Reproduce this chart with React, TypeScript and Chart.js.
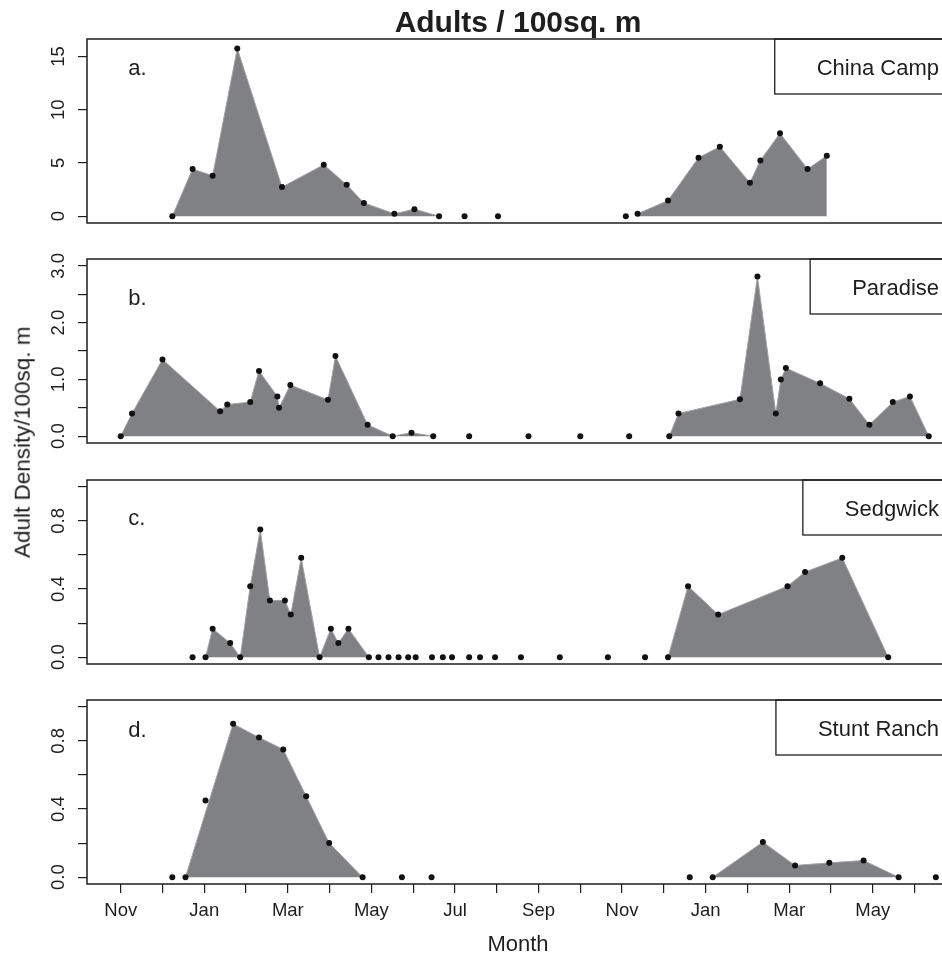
import React, { useEffect, useRef } from "react";
import { Chart, registerables } from "chart.js";

Chart.register(...registerables);

// ---------- data ----------
// x = months since 1 Nov of the first season (0 = Nov, 2 = Jan, ... 19 = Jun)
const monthTickValues = [0, 1, 2, 3, 4, 5, 6, 7, 8, 9, 10, 11, 12, 13, 14, 15, 16, 17, 18, 19];
const monthNames = ["Nov", "Dec", "Jan", "Feb", "Mar", "Apr", "May", "Jun", "Jul", "Aug", "Sep", "Oct", "Nov", "Dec", "Jan", "Feb", "Mar", "Apr", "May", "Jun"];

const chinaMonths = [1.235, 1.72, 2.2, 2.79, 3.86, 4.86, 5.41, 5.82, 6.55, 7.03, 7.62, 8.23, 9.03, 12.09, 12.37, 13.1, 13.83, 14.34, 15.06, 15.31, 15.78, 16.44, 16.9];
const chinaDensity = [0, 4.43, 3.8, 15.75, 2.73, 4.83, 2.95, 1.25, 0.22, 0.66, 0, 0, 0, 0, 0.22, 1.47, 5.49, 6.53, 3.14, 5.24, 7.78, 4.43, 5.68];
const chinaFilled = [[0, 10], [14, 22]];

const paradiseMonths = [0, 0.27, 1.0, 2.38, 2.55, 3.1, 3.31, 3.75, 3.79, 4.06, 4.96, 5.14, 5.91, 6.51, 6.96, 7.48, 8.34, 9.76, 11.0, 12.17, 13.13, 13.35, 14.82, 15.24, 15.68, 15.8, 15.92, 16.74, 17.44, 17.92, 18.48, 18.89, 19.34];
const paradiseDensity = [0, 0.4, 1.35, 0.44, 0.56, 0.6, 1.15, 0.7, 0.5, 0.9, 0.64, 1.41, 0.2, 0, 0.06, 0, 0, 0, 0, 0, 0, 0.4, 0.65, 2.81, 0.4, 1.0, 1.2, 0.93, 0.66, 0.2, 0.6, 0.7, 0];
const paradiseFilled = [[0, 15], [20, 32]];

const sedgwickMonths = [1.72, 2.03, 2.2, 2.62, 2.86, 3.1, 3.34, 3.57, 3.93, 4.07, 4.32, 4.76, 5.03, 5.21, 5.45, 5.94, 6.17, 6.41, 6.65, 6.88, 7.06, 7.45, 7.71, 7.93, 8.34, 8.6, 8.96, 9.58, 10.51, 11.66, 12.55, 13.1, 13.58, 14.3, 15.96, 16.38, 17.27, 18.37];
const sedgwickDensity = [0, 0, 0.167, 0.083, 0, 0.417, 0.75, 0.333, 0.333, 0.25, 0.583, 0, 0.167, 0.083, 0.167, 0, 0, 0, 0, 0, 0, 0, 0, 0, 0, 0, 0, 0, 0, 0, 0, 0, 0.417, 0.25, 0.417, 0.5, 0.583, 0];
const sedgwickFilled = [[1, 15], [31, 37]];

const stuntMonths = [1.235, 1.55, 2.03, 2.69, 3.31, 3.89, 4.44, 4.99, 5.79, 6.73, 7.44, 13.62, 14.17, 15.37, 16.14, 16.96, 17.78, 18.62, 19.51];
const stuntDensity = [0, 0, 0.45, 0.9, 0.82, 0.75, 0.475, 0.2, 0, 0, 0, 0, 0, 0.206, 0.069, 0.084, 0.098, 0, 0];
const stuntFilled = [[1, 8], [12, 17]];
const stuntOutsideFill = [2];

const ticksA = [0, 5, 10, 15];
const labelsA = ["0", "5", "10", "15"];
const ticksB = [0, 0.5, 1, 1.5, 2, 2.5, 3];
const labelsB = ["0.0", "", "1.0", "", "2.0", "", "3.0"];
const ticksCD = [0, 0.2, 0.4, 0.6, 0.8, 1.0];
const labelsCD = ["0.0", "", "0.4", "", "0.8", ""];

const siteNames = ["China Camp", "Paradise", "Sedgwick", "Stunt Ranch"];
const panelLetters = ["a.", "b.", "c.", "d."];

// ---------- layout / style ----------
const FONT = "'Liberation Sans', Arial, Helvetica, sans-serif";
const CANVAS_W = 960;
const PLOT_LEFT = 87;
const PLOT_RIGHT = 949;
const PLOT_H = 184;
const PAD = 10;
const X_AXIS_H = 74;
const X_MIN = -0.807;
const X_MAX = 19.825;
const FILL = "#808185";
const EDGE = "#a3a3a7";
const INK = "#1e1e1e";

type Panel = {
  letter: string;
  site: string;
  months: number[];
  density: number[];
  filled: number[][];
  skip: number[];
  yMin: number;
  yMax: number;
  yTicks: number[];
  yLabels: string[];
  top: number;
  letterBaseline: number;
  showX: boolean;
};

const panels: Panel[] = [
  { letter: panelLetters[0], site: siteNames[0], months: chinaMonths, density: chinaDensity, filled: chinaFilled, skip: [], yMin: -0.64, yMax: 16.64, yTicks: ticksA, yLabels: labelsA, top: 39, letterBaseline: 36, showX: false },
  { letter: panelLetters[1], site: siteNames[1], months: paradiseMonths, density: paradiseDensity, filled: paradiseFilled, skip: [], yMin: -0.12, yMax: 3.12, yTicks: ticksB, yLabels: labelsB, top: 259, letterBaseline: 46, showX: false },
  { letter: panelLetters[2], site: siteNames[2], months: sedgwickMonths, density: sedgwickDensity, filled: sedgwickFilled, skip: [], yMin: -0.04, yMax: 1.04, yTicks: ticksCD, yLabels: labelsCD, top: 480, letterBaseline: 45, showX: false },
  { letter: panelLetters[3], site: siteNames[3], months: stuntMonths, density: stuntDensity, filled: stuntFilled, skip: stuntOutsideFill, yMin: -0.04, yMax: 1.04, yTicks: ticksCD, yLabels: labelsCD, top: 700, letterBaseline: 37, showX: true },
];

function PanelChart({ p }: { p: Panel }) {
  const ref = useRef<HTMLCanvasElement | null>(null);
  const height = p.showX ? PAD + PLOT_H + X_AXIS_H : PAD + PLOT_H + PAD;

  useEffect(() => {
    if (!ref.current) return;
    const pts = p.months.map((m, i) => ({ x: m, y: p.density[i] }));
    const area: { x: number; y: number | null }[] = [];
    p.filled.forEach(([a, b], k) => {
      if (k > 0) area.push({ x: (p.months[a] + p.months[a - 1]) / 2, y: null });
      for (let i = a; i <= b; i++) {
        if (p.skip.includes(i)) continue;
        area.push({ x: p.months[i], y: p.density[i] });
      }
    });

    const deco = {
      id: "deco" + p.letter,
      afterDraw(chart: any) {
        const ctx = chart.ctx as CanvasRenderingContext2D;
        const { left, right, top, bottom } = chart.chartArea;
        ctx.save();
        ctx.strokeStyle = INK;
        ctx.lineWidth = 1.5;
        ctx.strokeRect(left, top, right - left, bottom - top);

        // y tick labels (rotated, reading upwards)
        ctx.fillStyle = INK;
        ctx.font = `18.5px ${FONT}`;
        ctx.textAlign = "center";
        ctx.textBaseline = "alphabetic";
        const ys = chart.scales.y;
        p.yTicks.forEach((v, i) => {
          const lab = p.yLabels[i];
          if (!lab) return;
          const y = ys.getPixelForValue(v);
          ctx.save();
          ctx.translate(63.5, y);
          ctx.rotate(-Math.PI / 2);
          ctx.fillText(lab, 0, 0);
          ctx.restore();
        });

        // panel letter
        ctx.font = `22px ${FONT}`;
        ctx.textAlign = "left";
        ctx.fillText(p.letter, 128.3, top + p.letterBaseline);

        // site legend box
        ctx.textAlign = "right";
        const tw = ctx.measureText(p.site).width;
        const textRight = right - 10;
        const boxLeft = textRight - tw - 42;
        ctx.lineWidth = 1.3;
        ctx.strokeRect(boxLeft, top, right - boxLeft, 55);
        ctx.fillText(p.site, textRight, top + 36);
        ctx.restore();
      },
    };

    const chart = new Chart(ref.current, {
      type: "scatter",
      data: {
        datasets: [
          {
            type: "scatter",
            data: pts,
            pointRadius: 3,
            pointHoverRadius: 3,
            pointBackgroundColor: "#111",
            pointBorderWidth: 0,
            order: 0,
          } as any,
          {
            type: "line",
            data: area,
            fill: "origin",
            backgroundColor: FILL,
            borderColor: EDGE,
            borderWidth: 1,
            pointRadius: 0,
            tension: 0,
            spanGaps: false,
            order: 1,
          } as any,
        ],
      },
      options: {
        animation: false,
        responsive: false,
        events: [],
        layout: { padding: { top: PAD, bottom: p.showX ? 0 : PAD, left: 0, right: CANVAS_W - PLOT_RIGHT } },
        plugins: { legend: { display: false }, tooltip: { enabled: false }, title: { display: false } },
        scales: {
          x: {
            type: "linear",
            min: X_MIN,
            max: X_MAX,
            display: p.showX,
            afterBuildTicks: (s: any) => {
              s.ticks = monthTickValues.map((v) => ({ value: v }));
            },
            afterFit: (s: any) => {
              s.height = p.showX ? X_AXIS_H : 0;
            },
            grid: { drawOnChartArea: false, drawTicks: true, tickLength: 9, color: INK, lineWidth: 1.2 },
            border: { display: false },
            ticks: {
              autoSkip: false,
              maxRotation: 0,
              minRotation: 0,
              padding: 6.5,
              color: INK,
              font: { family: FONT, size: 18.5 },
              callback: (_v: any, i: number) => (i % 2 === 0 ? monthNames[i] : ""),
            },
            title: { display: true, text: "Month", color: INK, font: { family: FONT, size: 22 }, padding: { top: 0, bottom: 0 } },
          },
          y: {
            type: "linear",
            min: p.yMin,
            max: p.yMax,
            afterBuildTicks: (s: any) => {
              s.ticks = p.yTicks.map((v) => ({ value: v }));
            },
            afterFit: (s: any) => {
              s.width = PLOT_LEFT;
            },
            grid: { drawOnChartArea: false, drawTicks: true, tickLength: 9, color: INK, lineWidth: 1.2 },
            border: { display: false },
            ticks: { display: false },
          },
        },
      } as any,
      plugins: [deco],
    });
    return () => chart.destroy();
  }, [p]);

  return (
    <canvas
      ref={ref}
      width={CANVAS_W}
      height={height}
      style={{ position: "absolute", left: 0, top: p.top - PAD, width: CANVAS_W, height }}
    />
  );
}

export default function App() {
  return (
    <div
      style={{
        position: "absolute",
        left: 0,
        top: 0,
        width: 942,
        height: 958,
        overflow: "hidden",
        background: "#fff",
        fontFamily: FONT,
        color: INK,
      }}
    >
      {panels.map((p) => (
        <PanelChart key={p.letter} p={p} />
      ))}
      <div
        style={{
          position: "absolute",
          left: 518 - 300,
          width: 600,
          top: 6.6,
          textAlign: "center",
          fontWeight: "bold",
          fontSize: 30,
          lineHeight: "30px",
          whiteSpace: "nowrap",
        }}
      >
        Adults / 100sq. m
      </div>
      <div
        style={{
          position: "absolute",
          left: 23 - 200,
          width: 400,
          top: 442 - 11.25,
          height: 22.5,
          textAlign: "center",
          fontSize: 22.5,
          lineHeight: "22.5px",
          whiteSpace: "nowrap",
          transform: "rotate(-90deg)",
          transformOrigin: "50% 50%",
        }}
      >
        Adult Density/100sq. m
      </div>
    </div>
  );
}
